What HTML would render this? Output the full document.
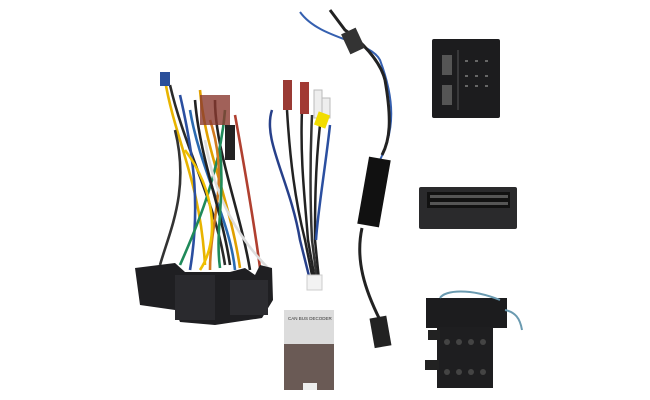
<!DOCTYPE html>
<html><head><style>html,body{margin:0;padding:0;background:#fff;}svg{display:block}</style></head>
<body>
<svg width="650" height="400" viewBox="0 0 650 400" xmlns="http://www.w3.org/2000/svg" font-family="Liberation Sans, sans-serif">
<rect width="650" height="400" fill="#fff"/>
<!-- left harness wires -->
<g fill="none" stroke-width="2.6">
<path d="M165 80 C175 140 200 180 205 265" stroke="#e8b400"/>
<path d="M170 85 C185 150 215 200 225 265" stroke="#2a2a2a"/>
<path d="M180 95 C195 160 200 210 190 270" stroke="#2b4fa0"/>
<path d="M200 90 C205 150 230 200 240 268" stroke="#e0a000"/>
<path d="M215 100 C215 150 240 210 250 270" stroke="#222"/>
<path d="M225 110 C220 170 200 220 180 265" stroke="#1f8a5a"/>
<path d="M190 110 C200 170 230 220 235 270" stroke="#2a6ab0"/>
<path d="M210 120 C230 180 210 220 210 270" stroke="#d07a20"/>
<path d="M175 130 C190 190 170 230 160 265" stroke="#333"/>
<path d="M235 115 C245 170 255 230 260 268" stroke="#b04030"/>
<path d="M205 140 C215 200 240 240 270 270" stroke="#ddd"/>
<path d="M185 150 C215 190 220 240 200 270" stroke="#f0c000"/>
<path d="M195 100 C200 160 222 210 230 265" stroke="#222"/>
<path d="M220 150 C225 200 215 230 220 268" stroke="#1f8a5a"/>
</g>
<rect x="200" y="95" width="30" height="30" fill="#8a3a30" opacity=".8"/>
<rect x="225" y="125" width="10" height="35" fill="#222"/>
<rect x="160" y="72" width="10" height="14" fill="#2a4f9a"/>
<!-- left connectors -->
<path d="M135 268 L175 263 L185 272 L230 272 L245 268 L255 275 L260 265 L272 268 L273 300 L262 318 L215 325 L180 322 L175 310 L140 305 Z" fill="#1f1f22"/>
<rect x="175" y="275" width="40" height="45" fill="#2a2a2e"/>
<rect x="230" y="280" width="38" height="35" fill="#2c2c30"/>
<!-- middle harness -->
<g fill="none" stroke-width="2.5">
<path d="M272 110 C262 140 290 180 300 240 L310 280" stroke="#27408a"/>
<path d="M287 110 C290 160 295 200 305 240 L313 280" stroke="#222"/>
<path d="M302 110 C300 160 305 200 308 240 L315 280" stroke="#222"/>
<path d="M312 115 C310 160 310 200 312 240 L317 280" stroke="#333"/>
<path d="M320 125 C315 170 315 210 315 240 L319 280" stroke="#222"/>
<path d="M330 125 C325 170 318 210 316 240" stroke="#2b4fa0"/>
</g>
<rect x="283" y="80" width="9" height="30" fill="#9a3a34"/>
<rect x="300" y="82" width="9" height="32" fill="#a23a34"/>
<rect x="314" y="90" width="8" height="28" fill="#eee" stroke="#bbb"/>
<rect x="322" y="98" width="8" height="20" fill="#eee" stroke="#bbb"/>
<rect x="316" y="113" width="12" height="14" fill="#f2dd00" transform="rotate(20 322 120)"/>
<rect x="307" y="275" width="15" height="15" fill="#f2f2f2" stroke="#ccc"/>
<!-- cable -->
<path d="M300 12 C320 40 370 40 380 60 C395 100 395 130 380 160" fill="none" stroke="#3560b0" stroke-width="2"/>
<path d="M330 10 L345 30 C360 40 380 60 385 80 C392 120 390 140 382 155" fill="none" stroke="#222" stroke-width="3"/>
<rect x="345" y="30" width="16" height="22" fill="#333" transform="rotate(-25 353 41)"/>
<path d="M362 228 C355 260 365 290 380 320" fill="none" stroke="#222" stroke-width="3"/>
<rect x="363" y="158" width="22" height="68" fill="#111" transform="rotate(10 374 192)"/>
<rect x="372" y="317" width="17" height="30" fill="#222" transform="rotate(-10 380 332)"/>
<!-- box -->
<rect x="284" y="310" width="50" height="80" fill="#6a5a55"/>
<rect x="284" y="310" width="50" height="34" fill="#dcdcdc"/>
<text x="288" y="320" font-size="4.5" fill="#333">CAN BUS DECODER</text>
<rect x="303" y="383" width="14" height="7" fill="#eee"/>
<!-- right top connector -->
<rect x="432" y="39" width="68" height="79" rx="2" fill="#1c1c1e"/>
<line x1="458" y1="50" x2="458" y2="110" stroke="#555"/>
<g fill="#555"><rect x="442" y="55" width="10" height="20"/><rect x="442" y="85" width="10" height="20"/></g>
<g fill="#666"><rect x="465" y="60" width="3" height="2"/><rect x="475" y="60" width="3" height="2"/><rect x="485" y="60" width="3" height="2"/><rect x="465" y="75" width="3" height="2"/><rect x="475" y="75" width="3" height="2"/><rect x="485" y="75" width="3" height="2"/><rect x="465" y="85" width="3" height="2"/><rect x="475" y="85" width="3" height="2"/><rect x="485" y="85" width="3" height="2"/></g>
<!-- right middle -->
<rect x="419" y="187" width="98" height="42" rx="2" fill="#2a2a2c"/>
<rect x="427" y="192" width="83" height="16" fill="#111"/>
<g fill="#555"><rect x="430" y="195" width="78" height="3"/><rect x="430" y="202" width="78" height="3"/></g>
<!-- right bottom -->
<rect x="426" y="298" width="81" height="30" fill="#1c1c1e"/>
<rect x="437" y="327" width="56" height="61" fill="#1e1e20"/>
<g fill="#444"><circle cx="447" cy="342" r="3"/><circle cx="459" cy="342" r="3"/><circle cx="471" cy="342" r="3"/><circle cx="483" cy="342" r="3"/><circle cx="447" cy="372" r="3"/><circle cx="459" cy="372" r="3"/><circle cx="471" cy="372" r="3"/><circle cx="483" cy="372" r="3"/></g>
<rect x="428" y="330" width="12" height="10" fill="#222"/>
<rect x="425" y="360" width="14" height="10" fill="#222"/>
<g fill="none" stroke="#6a9ab0" stroke-width="2"><path d="M440 298 C445 290 470 288 500 300"/><path d="M505 310 C515 312 520 318 522 330"/></g>
</svg>
</body></html>
